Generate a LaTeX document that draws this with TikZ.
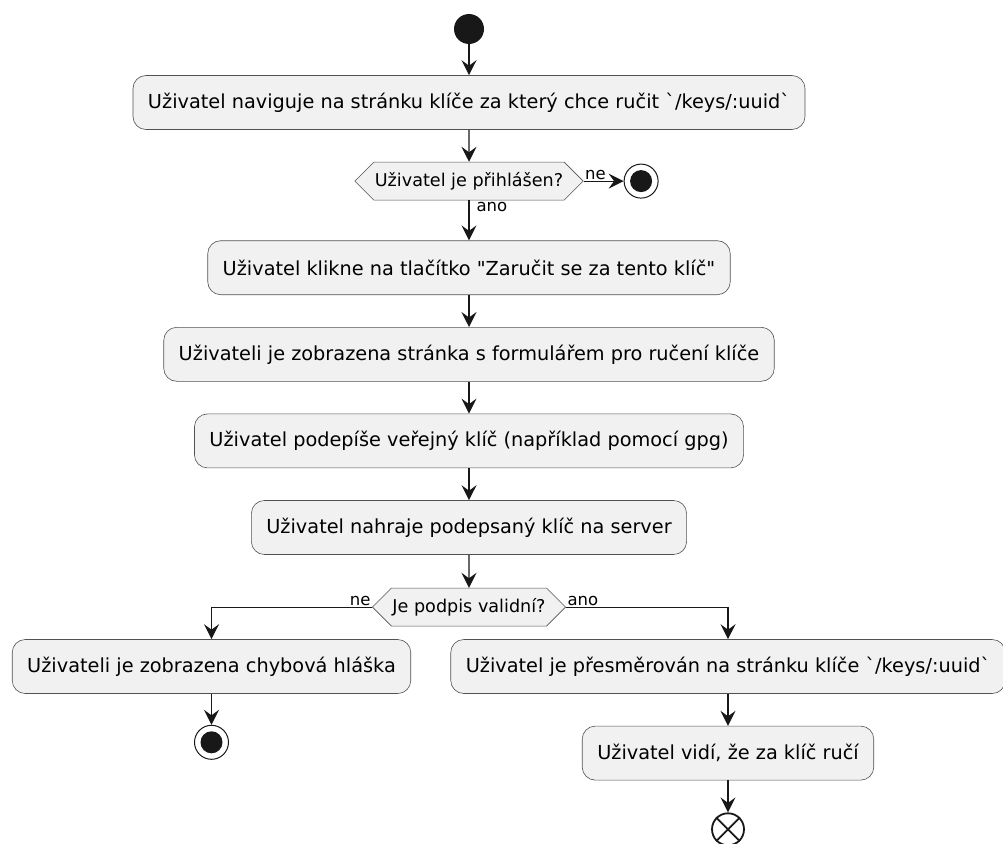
\documentclass[tikz,border=0pt]{standalone}
\usepackage{fontspec}
\setmainfont{DejaVu Sans}
\usetikzlibrary{arrows.meta,positioning,shapes.symbols}
\definecolor{actfill}{HTML}{F1F1F1}
\definecolor{actline}{HTML}{181818}

\begin{document}
\begin{tikzpicture}[x=1pt,y=1pt,node distance=32pt,
    every node/.style={font=\fontsize{19.3}{21}\selectfont},
    act/.style={draw=actline!75,fill=actfill,rounded corners=13pt,minimum height=54pt,
                inner xsep=15pt,line width=0.6pt},
    choice/.style={draw=actline!75,fill=actfill,signal,signal to=east and west,
                   signal pointer angle=90,minimum height=38pt,inner xsep=1pt,line width=0.6pt,
                   font=\fontsize{17.6}{19}\selectfont},
    lbl/.style={font=\fontsize{16.5}{18}\selectfont,inner sep=1pt},
    flow/.style={draw=actline,line width=1.2pt,-{Stealth[length=15pt,width=15pt,inset=5.5pt]}},
    startdot/.style={circle,fill=actline,minimum size=30pt,inner sep=0pt},
    stopdot/.style={circle,draw=actline,fill=white,line width=1pt,minimum size=34pt,inner sep=0pt,
                    path picture={\fill[actline] (path picture bounding box.center) circle (11pt);}},
    enddot/.style={circle,draw=actline,fill=white,line width=1.8pt,minimum size=32pt,inner sep=0pt}]
  \useasboundingbox (0,0) rectangle (1003,-843);
  \node[startdot] (start) at (469,-29) {};
  \node[act,below=31pt of start] (nav)
       {Uživatel naviguje na stránku klíče za který chce ručit \textasciigrave/keys/:uuid\textasciigrave};
  \node[choice,below=of nav] (login) {Uživatel je přihlášen?};
  \node[stopdot,right=40pt of login] (stopa) {};
  \node[act,below=40pt of login] (click)
       {Uživatel klikne na tlačítko \textquotedbl Zaručit se za tento klíč\textquotedbl};
  \node[act,below=of click] (form) {Uživateli je zobrazena stránka s formulářem pro ručení klíče};
  \node[act,below=of form] (sign) {Uživatel podepíše veřejný klíč (například pomocí gpg)};
  \node[act,below=of sign] (upload) {Uživatel nahraje podepsaný klíč na server};
  \node[choice,below=33pt of upload] (valid) {Je podpis validní?};
  \node[act] (fail) at (211.5,-666.5) {Uživateli je zobrazena chybová hláška};
  \node[act] (redir) at (728,-666.5) {Uživatel je přesměrován na stránku klíče \textasciigrave/keys/:uuid\textasciigrave};
  \node[stopdot,below=31pt of fail] (stopb) {};
  \node[act,below=of redir] (sees) {Uživatel vidí, že za klíč ručí};
  \node[enddot,below=32pt of sees] (finish) {};
  \draw[actline,line width=1.8pt] (finish.north west) -- (finish.south east)
                                  (finish.north east) -- (finish.south west);

  \draw[flow] (start) -- (nav);
  \draw[flow] (nav) -- (login);
  \draw[flow] (login.east) -- node[lbl,anchor=south west,pos=0] {ne} (stopa);
  \draw[flow] (login.south) -- node[lbl,anchor=north west,pos=0,xshift=6pt] {ano} (click);
  \draw[flow] (click) -- (form);
  \draw[flow] (form) -- (sign);
  \draw[flow] (sign) -- (upload);
  \draw[flow] (upload) -- (valid);
  \draw[flow] (valid.west) -| node[lbl,anchor=south east,pos=0] {ne} (fail);
  \draw[flow] (valid.east) -| node[lbl,anchor=south west,pos=0] {ano} (redir);
  \draw[flow] (fail) -- (stopb);
  \draw[flow] (redir) -- (sees);
  \draw[flow] (sees) -- (finish);
\end{tikzpicture}
\end{document}
